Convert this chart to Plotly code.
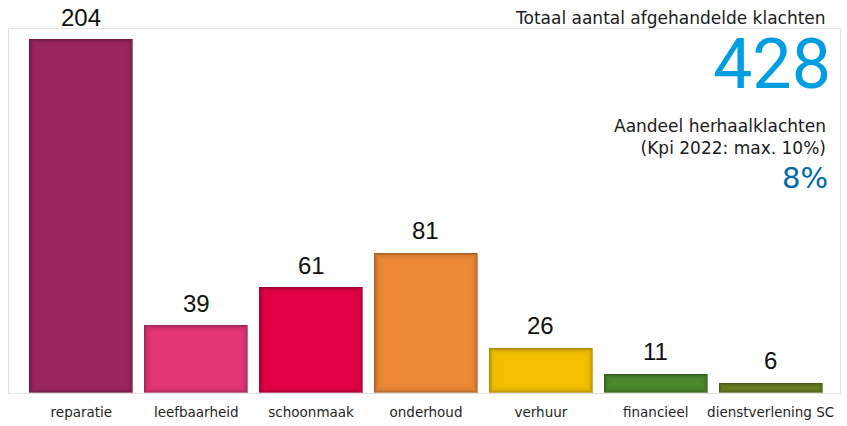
import math
import plotly.graph_objects as go

# Afgehandelde klachten per categorie
categories = ["reparatie", "leefbaarheid", "schoonmaak", "onderhoud",
              "verhuur", "financieel", "dienstverlening SC"]
values = [204, 39, 61, 81, 26, 11, 6]
bar_colors = ["#9D2661", "#E6367A", "#E30044", "#F08A36",
              "#F7C300", "#4B8B31", "#6E8425"]

total_label = "Totaal aantal afgehandelde klachten"
total_value = "428"
share_label = "Aandeel herhaalklachten<br>(Kpi 2022: max. 10%)"
share_value = "8%"

# geometry of the plot area (pixels) used to size the inner-shadow layers
LEFT, RIGHT = 9, 841
TOP, BOTTOM = 29, 396
PLOT_H = BOTTOM - TOP
Y_MAX = 210
BAR_W = 0.904
CAT_PX = 115
px_y = Y_MAX / PLOT_H          # data units per vertical pixel
px_x = 1.0 / CAT_PX            # category units per horizontal pixel


def hex_rgb(h):
    h = h.lstrip("#")
    return tuple(int(h[i:i + 2], 16) for i in (0, 2, 4))


def mix(c, f):
    r, g, b = hex_rgb(c)
    return "rgb(%d,%d,%d)" % (int(r * f), int(g * f), int(b * f))


fig = go.Figure()

# soft inner shadow: 1px layers, darkest at the edge, fading to the base colour
steps = 9
for k in range(steps):
    f = 1 - 0.30 * math.exp(-k / 2.4)
    fig.add_trace(go.Bar(
        x=list(range(len(categories))),
        y=[max(v - 2 * k * px_y, 0) for v in values],
        base=[k * px_y for _ in values],
        width=BAR_W - 2 * k * px_x,
        marker=dict(color=[mix(c, f) for c in bar_colors],
                    line=dict(width=0)),
        hoverinfo="skip",
        showlegend=False,
    ))

# thin light outline around each bar
fig.add_trace(go.Bar(
    x=list(range(len(categories))),
    y=values,
    width=BAR_W,
    marker=dict(color="rgba(0,0,0,0)",
                line=dict(width=1, color="rgba(255,255,255,0.35)")),
    hoverinfo="skip",
    showlegend=False,
))

annotations = []
for i, v in enumerate(values):
    annotations.append(dict(
        x=i, y=v, xref="x", yref="y", text=str(v), showarrow=False,
        yanchor="middle", yshift=22,
        font=dict(family="Liberation Sans, Arial", size=24, color="#111111"),
    ))

# header texts, positioned in pixels and converted to paper coordinates
header = [
    (829, 18, total_label, "DejaVu Sans", 17, "#1a1a1a"),
    (834, 64, total_value, "Roboto", 70, "#009EE0"),
    (831, 179, share_value, "DejaVu Sans", 29, "#0069A8"),
    (829, 138, share_label, "DejaVu Sans", 17, "#1a1a1a"),
]
for px, py, txt, fam, size, col in header:
    annotations.append(dict(
        x=(px - LEFT) / (RIGHT - LEFT), y=(BOTTOM - py) / PLOT_H,
        xref="paper", yref="paper", text=txt, showarrow=False,
        xanchor="right", yanchor="middle", align="right",
        font=dict(family=fam, size=size, color=col),
    ))

fig.update_layout(
    width=847, height=426,
    margin=dict(l=LEFT, r=847 - RIGHT, t=TOP, b=426 - BOTTOM, pad=0),
    paper_bgcolor="white", plot_bgcolor="white",
    barmode="overlay", bargap=0,
    annotations=annotations,
    xaxis=dict(
        range=[-0.630, 6.604],
        tickmode="array", tickvals=list(range(len(categories))),
        ticktext=categories, ticks="", ticklabelstandoff=7,
        tickfont=dict(family="DejaVu Sans", size=13.5, color="#1f1f1f"),
        showline=True, linecolor="#e3e3e3", linewidth=1, mirror=True,
        showgrid=False, zeroline=False, fixedrange=True,
    ),
    yaxis=dict(
        range=[0, Y_MAX], showticklabels=False, ticks="",
        showline=True, linecolor="#e3e3e3", linewidth=1, mirror=True,
        showgrid=False, zeroline=False, fixedrange=True,
    ),
)

fig.write_html("out.html")
